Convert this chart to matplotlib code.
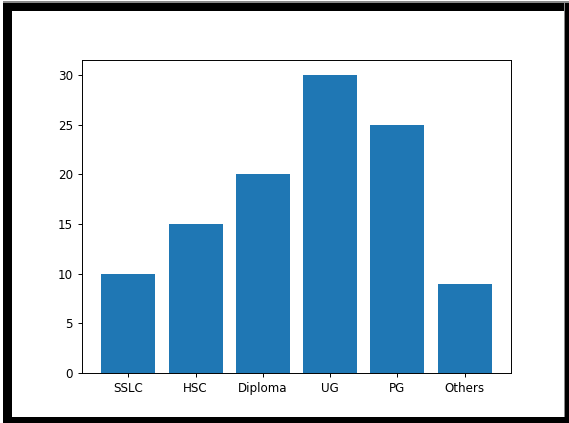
import matplotlib
matplotlib.use("Agg")
import matplotlib.pyplot as plt
from matplotlib.patches import Rectangle

categories = ["SSLC", "HSC", "Diploma", "UG", "PG", "Others"]
counts = [10, 15, 20, 30, 25, 9]

W, H = 569, 423
fig = plt.figure(figsize=(W / 100, H / 100), dpi=100)

# axes placed in pixel units (measured from top-left)
ax_left, ax_right, ax_top, ax_bottom = 82, 511, 60, 373
ax = fig.add_axes([ax_left / W, (H - ax_bottom) / H,
                   (ax_right - ax_left) / W, (ax_bottom - ax_top) / H])

ax.bar(categories, counts, color="#1f77b4", width=0.8)
ax.tick_params(labelsize=8.6, length=3.0, width=0.7)
for s in ax.spines.values():
    s.set_linewidth(0.7)


def frame_rect(x0, y0_top, x1, y1_top, color):
    # rectangle in pixel coords with y measured from the top edge
    fig.patches.append(Rectangle((x0, H - y1_top), x1 - x0, y1_top - y0_top,
                                 transform=None, facecolor=color,
                                 edgecolor="none", zorder=10))


# thick black frame around the figure
frame_rect(3, 1, W, 3, "#8a8a8a")
frame_rect(3, 3, W, 11, "black")
frame_rect(3, 3, 12, H, "black")
frame_rect(564, 3, 565, 417, "#8a8a8a")
frame_rect(565, 3, W, H, "black")
frame_rect(3, 417, W, H, "black")

fig.savefig("out.png", dpi=100)
